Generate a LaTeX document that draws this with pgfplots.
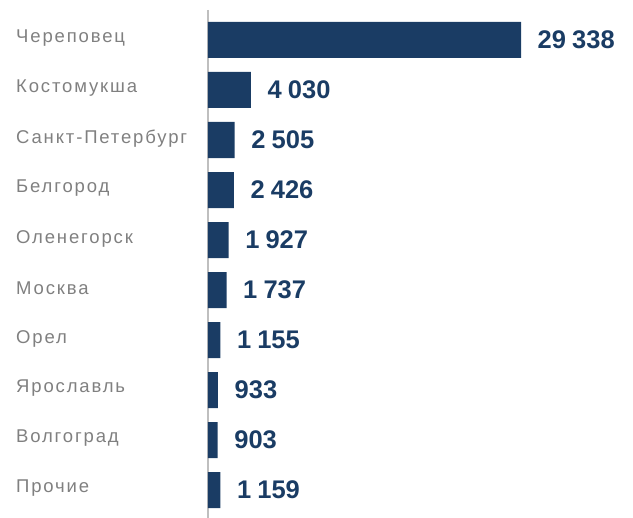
\documentclass[border=0pt]{standalone}
\usepackage{fontspec}
\setmainfont{Liberation Sans}
\newfontfamily\labelfont[LetterSpace=10]{Liberation Sans}
\usepackage{pgfplots}
\pgfplotsset{compat=1.18}
\definecolor{navy}{HTML}{1A3C64}
\definecolor{lbl}{HTML}{808080}
\definecolor{axgray}{HTML}{BFBFBF}
\begin{document}
\begin{tikzpicture}
\useasboundingbox (-208bp,0) rectangle (425bp,518bp);
\begin{axis}[
  at={(0,0)}, anchor=south west,
  scale only axis, width=425bp, height=508bp,
  xmin=0, xmax=39830,
  ymin=-0.6, ymax=9.56, y dir=reverse,
  axis x line=none,
  axis y line=left,
  y axis line style={draw=axgray, line width=1.5bp, -},
  major tick length=0pt,
  ytick={0,...,9},
  yticklabels={Череповец,Костомукша,Санкт-Петербург,Белгород,Оленегорск,Москва,Орел,Ярославль,Волгоград,Прочие},
  yticklabel style={anchor=west, inner sep=0pt, xshift=-192bp, yshift=1.5bp,
    font=\labelfont\fontsize{18.5bp}{20bp}\selectfont, text=lbl},
  xbar, bar width=36bp,
  /pgf/number format/assume math mode=true,
  point meta=x,
  nodes near coords={\pgfmathprintnumber[fixed,precision=0,1000 sep={\hspace{0.24em}}]{\pgfplotspointmeta}},
  nodes near coords align={horizontal},
  every node near coord/.append style={anchor=west, inner sep=0pt, xshift=16.5bp,
    font=\fontsize{25.5bp}{28bp}\selectfont\bfseries, text=navy},
  clip=false,
]
\addplot[fill=navy, draw=none] coordinates {
  (29338,0) (4030,1) (2505,2) (2426,3) (1927,4) (1737,5) (1155,6) (933,7) (903,8) (1159,9)
};
\end{axis}
\end{tikzpicture}
\end{document}
